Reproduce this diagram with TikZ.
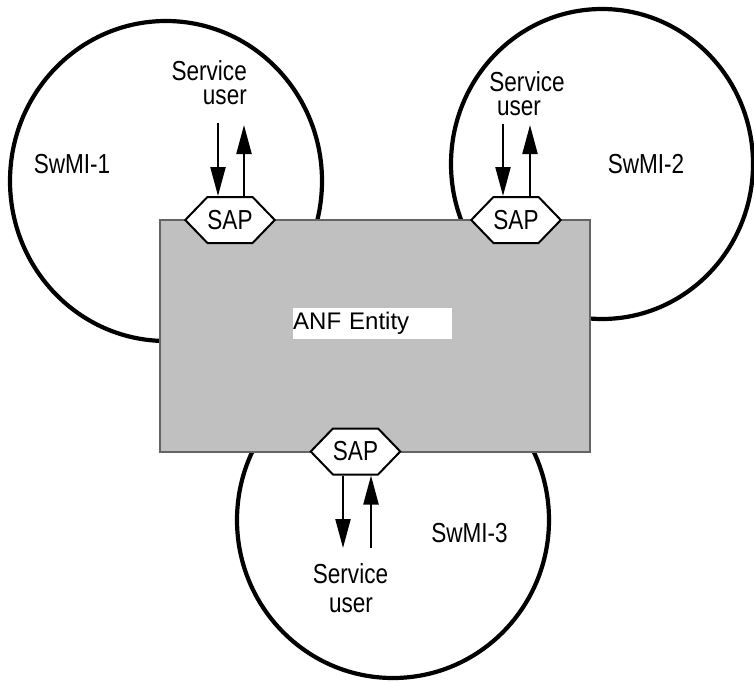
\documentclass[tikz,border=0pt]{standalone}
\usepackage{fontspec}
\setmainfont{Liberation Sans}
\newfontfamily\condf{Liberation Sans}[FakeStretch=0.82]
\usetikzlibrary{arrows.meta,shapes.symbols}
\definecolor{boxgray}{RGB}{192,192,192}
\definecolor{edgegray}{RGB}{100,100,100}
\tikzset{
  swmi/.style={line width=4.2pt,draw=black},
  anfbox/.style={draw=edgegray,line width=1.4pt,fill=boxgray,minimum width=430pt,minimum height=232pt,inner sep=0pt},
  sapbox/.style={shape=signal,signal to=west and east,signal pointer angle=92,draw=black,fill=white,line width=2pt,minimum width=86pt,minimum height=46pt,inner sep=0pt,font=\condf\fontsize{27.5}{30}\selectfont},
  lbl/.style={inner sep=0pt,font=\condf\fontsize{27.5}{30}\selectfont},
  topline/.style={lbl,text depth=0pt},
  lowline/.style={lbl,text height=14.5pt,text depth=0pt},
  arr/.style={line width=2.2pt,-{Triangle[length=29pt,width=15pt]}},
  anflbl/.style={fill=white,inner sep=0pt,text width=159pt,minimum height=31pt,align=left,font=\fontsize{24}{28}\selectfont}
}
\begin{document}
\begin{tikzpicture}[x=1pt,y=-1pt]
\useasboundingbox (0,0) rectangle (754,682);
% SwMI circles
\draw[swmi] (166,181) ellipse [x radius=156, y radius=160];
\draw[swmi] (602,164) ellipse [x radius=151, y radius=155];
\draw[swmi] (393,520) ellipse [x radius=156, y radius=158];
% ANF entity box
\node[anfbox] (anf) at (375,336) {};
\node[anflbl,anchor=west] (anflabel) at (293,323.5) {ANF Entity};
% SAPs
\node[sapbox] (sap1) at (230,220) {SAP};
\node[sapbox] (sap2) at (516,220) {SAP};
\node[sapbox] (sap3) at (355.5,451.5) {SAP};
% free ends of arrows
\coordinate (u1in) at (218,123);
\coordinate (u1out) at (244,125);
\coordinate (u2in) at (503,124);
\coordinate (u2out) at (530,125);
\coordinate (u3out) at (343,548);
\coordinate (u3in) at (371,548);
% arrows
\draw[arr] (u1in) -- (u1in |- sap1.north);
\draw[arr] (u1out |- sap1.north) -- (u1out);
\draw[arr] (u2in) -- (u2in |- sap2.north);
\draw[arr] (u2out |- sap2.north) -- (u2out);
\draw[arr] (u3out |- sap3.south) -- (u3out);
\draw[arr] (u3in) -- (u3in |- sap3.south);
% labels
\node[topline,anchor=base east] (su1a) at (247,81) {Service};
\node[lowline,anchor=base east] (su1b) at (247,105) {user};
\node[topline,anchor=base] (su2a) at (527,92) {Service};
\node[lowline,anchor=base] (su2b) at (519,115) {user};
\node[topline,anchor=base] (su3a) at (350.5,583) {Service};
\node[lowline,anchor=base] (su3b) at (351,612) {user};
\node[lbl,anchor=base] (sw1) at (72,173) {SwMI-1};
\node[lbl,anchor=base] (sw2) at (646,173) {SwMI-2};
\node[lbl,anchor=base] (sw3) at (469.5,542) {SwMI-3};
\end{tikzpicture}
\end{document}
